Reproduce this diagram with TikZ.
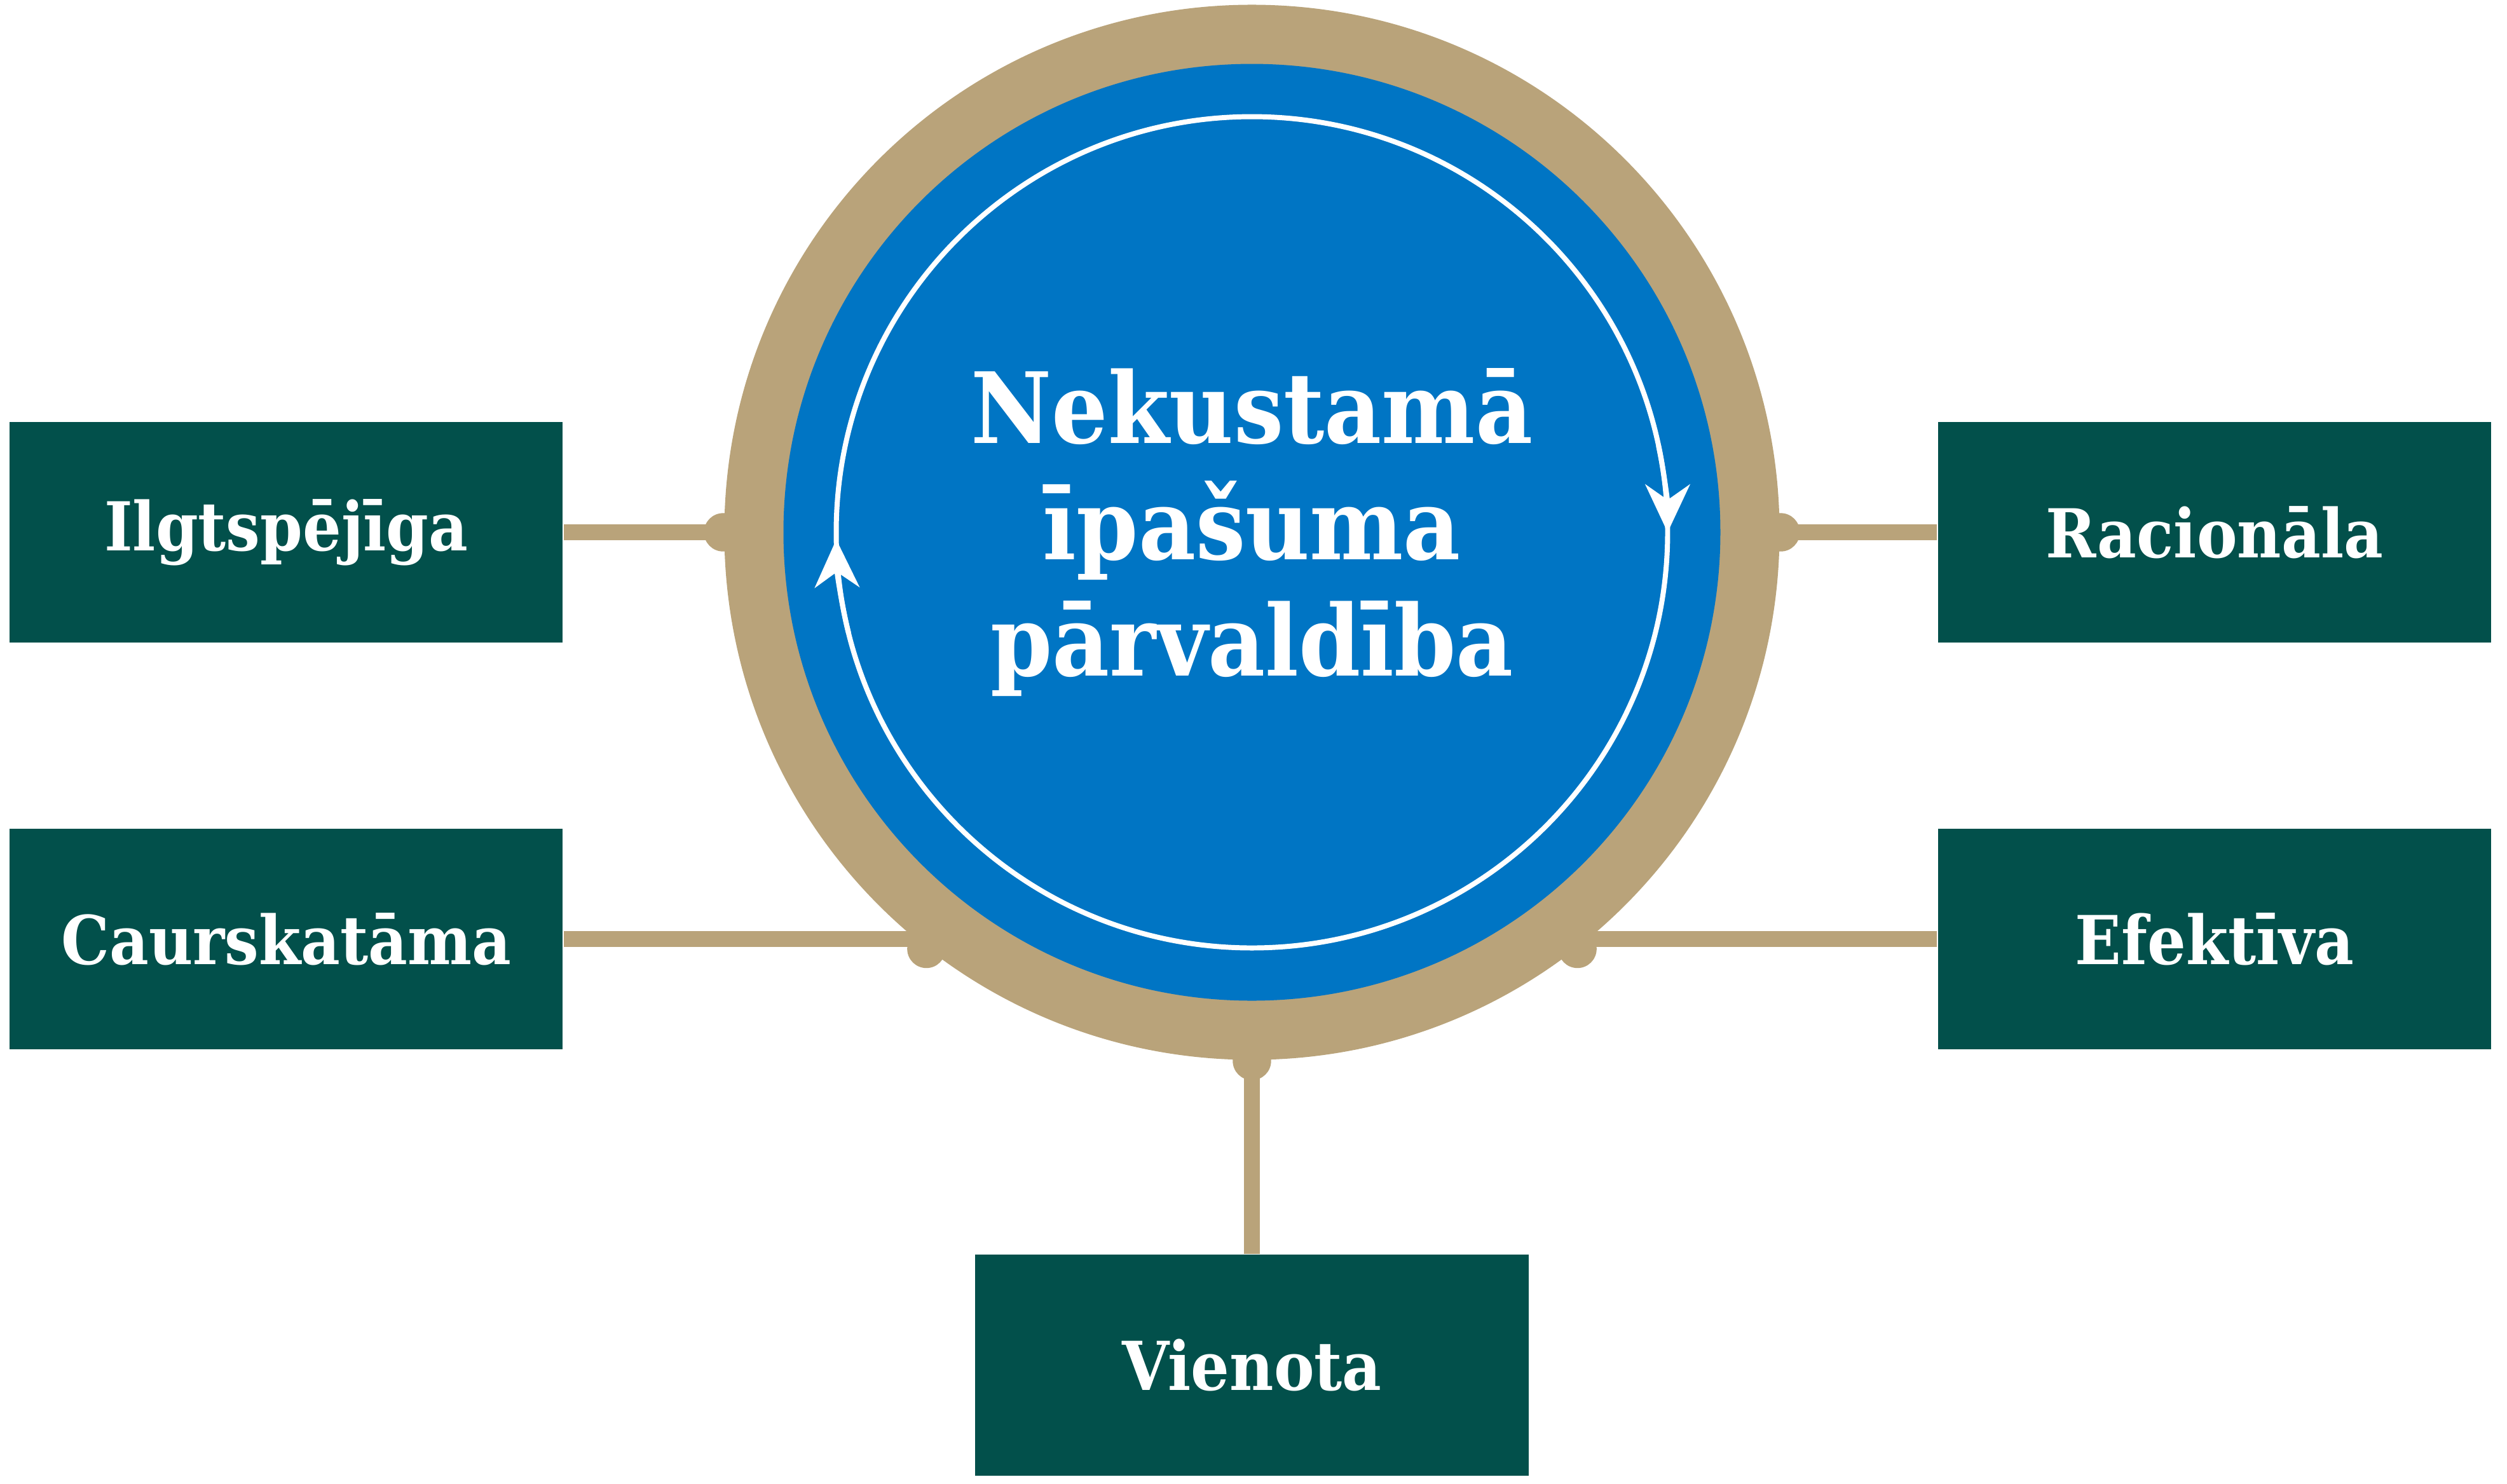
\documentclass[tikz,border=0pt]{standalone}
\usepackage{fontspec}
\setmainfont{DejaVu Serif Condensed}
\usetikzlibrary{arrows.meta}

\definecolor{ringtan}{RGB}{185,163,122}
\definecolor{coreblue}{RGB}{0,117,196}
\definecolor{boxgreen}{RGB}{2,80,75}

\begin{document}
\begin{tikzpicture}[
        quality/.style={fill=boxgreen,text=white,minimum width=3.46cm,
          minimum height=1.38cm,inner sep=0pt,
          font=\bfseries\fontsize{12}{14}\selectfont},
        link/.style={ringtan,line width=0.1cm},
        cycleline/.style={white,line width=0.9pt,
          -{Stealth[length=3mm,width=2.8mm]}}
        ]
        \useasboundingbox (0,0) rectangle (15.68,9.28) ;
        % ring and core
        \node[circle,fill=ringtan,minimum size=6.6cm,inner sep=0pt] (ring) at (7.83,5.95) {} ;
        \node[circle,fill=coreblue,minimum size=5.86cm,inner sep=0pt] (core) at (ring.center) {} ;
        \draw[white,line width=0.9pt] (core.center) circle (2.6) ;
        \draw[cycleline] (core.center) ++(12:2.6) arc[start angle=12,end angle=0,radius=2.6] ;
        \draw[cycleline] (core.center) ++(194:2.6) arc[start angle=194,end angle=181,radius=2.6] ;
        \node[text=white,align=center,font=\bfseries\fontsize{17.5}{20.7}\selectfont] (title)
        at (core.center) {Nekustamā\\īpašuma\\pārvaldība} ;
        % boxes
        \node[quality] (ilgt) at (1.79,5.95) {Ilgtspējīga} ;
        \node[quality] (caur) at (1.79,3.405) {Caurskatāma} ;
        \node[quality] (rac) at (13.85,5.95) {Racionāla} ;
        \node[quality] (efek) at (13.85,3.405) {Efektīva} ;
        \node[quality] (vien) at (7.83,0.74) {Vienota} ;
        % links
        \draw[link] (ilgt.east) -- (ring.west) ;
        \draw[link] (rac.west) -- (ring.east) ;
        \draw[link] (caur.east) -- (caur.east -| ring.231) ;
        \draw[link] (efek.west) -- (efek.west -| ring.-51) ;
        \draw[link] (vien.north) -- (ring.south) ;
        \fill[ringtan] (ring.west) circle (0.12) ;
        \fill[ringtan] (ring.east) circle (0.12) ;
        \fill[ringtan] (ring.232) circle (0.12) ;
        \fill[ringtan] (ring.-52) circle (0.12) ;
        \fill[ringtan] (ring.south) circle (0.12) ;
      \end{tikzpicture}
\end{document}
